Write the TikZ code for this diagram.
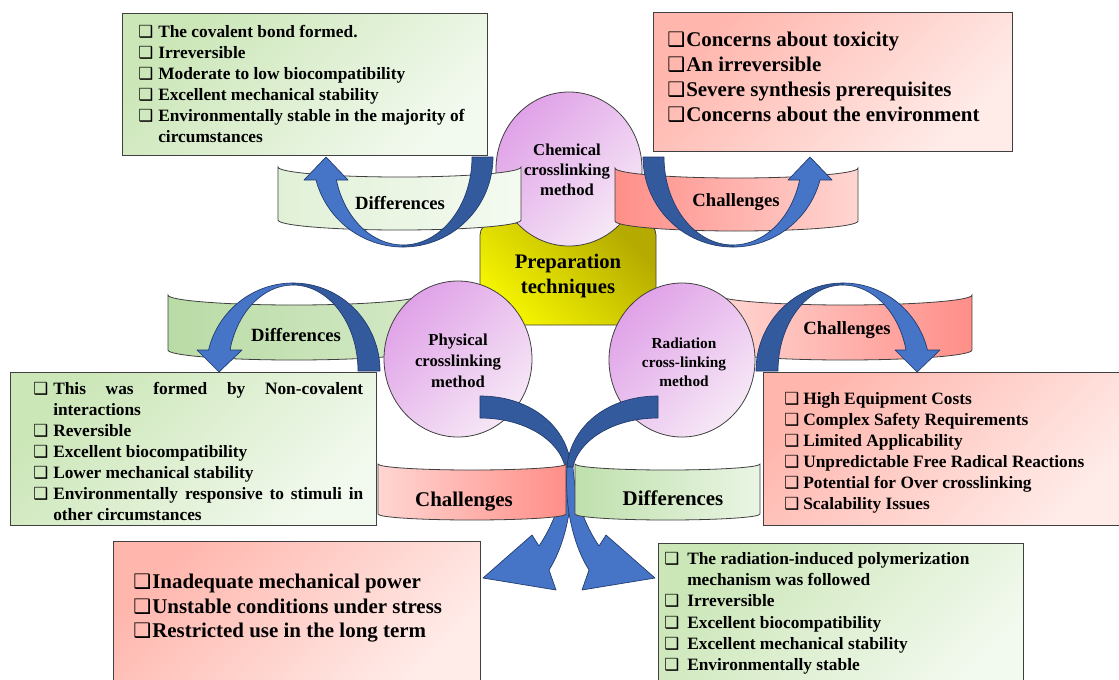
\documentclass[tikz,border=0pt]{standalone}
\usepackage{fontspec}
\setmainfont{Liberation Serif}
\newfontfamily\symf{DejaVu Sans}
\definecolor{lineC}{HTML}{404040}
\definecolor{gA}{HTML}{CBE6B7}
\definecolor{gB}{HTML}{F2F9EE}
\definecolor{rA}{HTML}{FFB6AD}
\definecolor{rB}{HTML}{FFECE9}
\definecolor{cA}{HTML}{E0A2E8}
\definecolor{cB}{HTML}{F6E8F6}
\definecolor{yA}{HTML}{F6F600}
\definecolor{yB}{HTML}{B4AA00}
\definecolor{arD}{HTML}{345A9E}
\definecolor{arL}{HTML}{4674C6}
\definecolor{arE}{HTML}{1F3A6C}
\definecolor{rbRs}{HTML}{FF8E88}
\definecolor{rbRl}{HTML}{FFD6D2}
\definecolor{rbG1a}{HTML}{E1F1D7}
\definecolor{rbG1b}{HTML}{F4FAF0}
\definecolor{rbG2a}{HTML}{B9DBA5}
\definecolor{rbG2b}{HTML}{D3E9C6}
\definecolor{rbG3a}{HTML}{BFE0AD}
\definecolor{rbG3b}{HTML}{EAF5E4}
\newcommand\fsz[2]{\fontsize{#1}{#2}\selectfont\bfseries}
\def\itmfont{\fsz{13}{15.75}}
\def\bulfont{\symf\bfseries\fontsize{12.5}{15}\selectfont}
\newcommand\bitem[5]{\node[bul] (#1b) at (#2,#4) {❑}; \node[itm] (#1) at (#3,#4) {#5};}
\newcommand\citem[4]{\node[itm] (#1) at (#2,#3) {#4};}
\newcommand\ribbon[6]{\path[#1] (#2,#4) -- (#2,#5) arc[start angle=180, end angle=0, x radius={(#3-#2)/2}, y radius=#6] -- (#3,#4) arc[start angle=0, end angle=180, x radius={(#3-#2)/2}, y radius=#6] -- cycle;}
\begin{document}
\begin{tikzpicture}[x=0.75pt,y=-0.75pt,
 panel/.style={draw=lineC, line width=0.7pt},
 gpanel/.style={panel, top color=gA, bottom color=gB, shading angle=45},
 rpanel/.style={panel, top color=rA, bottom color=rB, shading angle=45},
 disc/.style={draw=lineC, line width=0.6pt, top color=cA, bottom color=cB, shading angle=45},
 yelbox/.style={draw=lineC, line width=0.6pt, rounded corners=9pt, top color=yB, bottom color=yA, shading angle=-45},
 band/.style={draw=lineC, line width=0.6pt},
 darr/.style={fill=arD, draw=arE, line width=0.5pt, line join=round},
 larr/.style={fill=arL, draw=arE, line width=0.5pt, line join=round},
 bul/.style={anchor=base west, inner sep=0pt, font=\bulfont},
 itm/.style={anchor=base west, inner sep=0pt, font=\itmfont},
 lab/.style={inner sep=0pt, align=center},
]
\useasboundingbox (0,0) rectangle (1119,679);
\clip (0,0) rectangle (1119,679);
\fill[white] (0,0) rectangle (1119,679);

% panels
\path[gpanel] (122,13) rectangle (487,155);
\path[rpanel] (653,12) rectangle (1012,151);
\path[gpanel] (10,372) rectangle (376,525);
\path[rpanel] (763,372) rectangle (1130,525);
\path[rpanel] (113,541) rectangle (480,690);
\path[gpanel] (658,543) rectangle (1023,690);

% centre block
\path[yelbox] (480,223) rectangle (656,325);

% middle ribbons (behind circles)
\ribbon{band, left color=rbG2a, right color=rbG2b}{168}{420}{295}{350}{10}
\ribbon{band, left color=rbRl, right color=rbRs}{718}{972}{295}{350}{10}

% circles
\path[disc] (458,359) ellipse[x radius=74, y radius=78];
\path[disc] (682,360) ellipse[x radius=73, y radius=77];
\path[disc] (569,169) ellipse[x radius=73, y radius=77];

% top ribbons
\ribbon{band, left color=rbG1a, right color=rbG1b}{278}{521}{167}{220}{10}
\ribbon{band, left color=rbRs, right color=rbRl}{615}{858}{168}{221}{10}

% top-right arrow
\path[darr] (643,157) arc[start angle=180, end angle=90, x radius=90, y radius=90] -- (733,245) arc[start angle=90, end angle=180, x radius=69, y radius=88] -- cycle;
\path[larr] (733,247) arc[start angle=90, end angle=14.8, x radius=90, y radius=90] -- (832,180) -- (810,157) -- (788,180) -- (799.6,180) arc[start angle=15.15, end angle=90, x radius=69, y radius=88] -- cycle;
% top-left arrow
\path[darr] (493,157) arc[start angle=0, end angle=90, x radius=90, y radius=90] -- (403,245) arc[start angle=90, end angle=0, x radius=69, y radius=88] -- cycle;
\path[larr] (403,247) arc[start angle=90, end angle=165.2, x radius=90, y radius=90] -- (304,180) -- (326,157) -- (348,180) -- (336.4,180) arc[start angle=164.85, end angle=90, x radius=69, y radius=88] -- cycle;
% middle-left arrow
\path[darr] (380,371) arc[start angle=0, end angle=-90, x radius=87, y radius=88] -- (293,285) arc[start angle=-90, end angle=0, x radius=65, y radius=86] -- cycle;
\path[larr] (293,283) arc[start angle=-90, end angle=-166.2, x radius=87, y radius=88] -- (197,350) -- (219,372) -- (242,350) -- (230,350) arc[start angle=-165.87, end angle=-90, x radius=65, y radius=86] -- cycle;
% middle-right arrow
\path[darr] (756,371) arc[start angle=180, end angle=270, x radius=87, y radius=88] -- (843,285) arc[start angle=270, end angle=180, x radius=65, y radius=86] -- cycle;
\path[larr] (843,283) arc[start angle=270, end angle=346.2, x radius=87, y radius=88] -- (940,350) -- (917,372) -- (895,350) -- (906,350) arc[start angle=345.87, end angle=270, x radius=65, y radius=86] -- cycle;
% bottom arrows
\path[darr] (480,396) .. controls (532,396) and (568,428) .. (571,467) -- (565,467) .. controls (560,442) and (527,418) .. (480,418) -- cycle;
\path[larr] (565,467) -- (571,467) .. controls (574,510) and (563,548) .. (549,570) -- (556,590) -- (483,578) -- (532,535) -- (539,546) .. controls (553,525) and (563,500) .. (565,467) -- cycle;
\path[darr] (658,396) .. controls (606,396) and (570,428) .. (567,467) -- (573,467) .. controls (578,442) and (611,418) .. (658,418) -- cycle;
\path[larr] (573,467) -- (567,467) .. controls (564,510) and (575,548) .. (589,570) -- (582,590) -- (655,578) -- (606,535) -- (599,546) .. controls (585,525) and (575,500) .. (573,467) -- cycle;

% bottom ribbons
\ribbon{band, left color=rbRl, right color=rbRs}{378}{566}{464}{514}{6}
\ribbon{band, left color=rbG3a, right color=rbG3b}{575}{760}{464}{514}{6}

% centre texts
\node[lab, font=\fsz{15.5}{18.75}] (prep) at (568,276) {Preparation\\techniques};
\node[lab, font=\fsz{12.5}{15}] (chem) at (567,170) {Chemical\\crosslinking\\method};
\node[lab, font=\fsz{12.5}{15.75}] (phys) at (458,361) {Physical\\crosslinking\\method};
\node[lab, font=\fsz{11.5}{14.25}] (radi) at (684,362) {Radiation\\cross-linking\\method};

% ribbon labels
\node[lab, font=\fsz{14}{16}] (tlr) at (400,203) {Differences};
\node[lab, font=\fsz{14}{16}] (trr) at (736,202) {Challenges};
\node[lab, font=\fsz{14}{16}] (mlr) at (296,335) {Differences};
\node[lab, font=\fsz{14}{16}] (mrr) at (847,330) {Challenges};
\node[lab, font=\fsz{15.7}{18}] (blr) at (464,502) {Challenges};
\node[lab, font=\fsz{15.7}{18}] (brr) at (673,498) {Differences};

% top-left list
\bitem{tl1}{138}{158}{37}{The covalent bond formed.}
\bitem{tl2}{138}{158}{58}{Irreversible}
\bitem{tl3}{138}{158}{79}{Moderate to low biocompatibility}
\bitem{tl4}{138}{158}{100}{Excellent mechanical stability}
\bitem{tl5}{138}{158}{121}{Environmentally stable in the majority of}
\citem{tl6}{158}{142}{circumstances}

% middle-left list
\bitem{ml1}{33}{53}{394}{\makebox[232.5pt][s]{This was formed by Non-covalent}}
\citem{ml2}{53}{415}{interactions}
\bitem{ml3}{33}{53}{436}{Reversible}
\bitem{ml4}{33}{53}{457}{Excellent biocompatibility}
\bitem{ml5}{33}{53}{478}{Lower mechanical stability}
\bitem{ml6}{33}{53}{499}{\makebox[232.5pt][s]{Environmentally responsive to stimuli in}}
\citem{ml7}{53}{520}{other circumstances}

% middle-right list
\bitem{mr1}{784}{803}{404}{High Equipment Costs}
\bitem{mr2}{784}{803}{425}{Complex Safety Requirements}
\bitem{mr3}{784}{803}{446}{Limited Applicability}
\bitem{mr4}{784}{803}{467}{Unpredictable Free Radical Reactions}
\bitem{mr5}{784}{803}{488}{Potential for Over crosslinking}
\bitem{mr6}{784}{803}{509}{Scalability Issues}

% bottom-right list
\bitem{br1}{664}{687}{564}{The radiation-induced polymerization}
\citem{br2}{687}{585}{mechanism was followed}
\bitem{br3}{664}{687}{606}{Irreversible}
\bitem{br4}{664}{687}{628}{Excellent biocompatibility}
\bitem{br5}{664}{687}{649}{Excellent mechanical stability}
\bitem{br6}{664}{687}{670}{Environmentally stable}

% larger lists
\begin{scope}
\def\itmfont{\fsz{15.7}{18.75}}
\def\bulfont{\symf\bfseries\fontsize{15}{18}\selectfont}
\bitem{tr1}{667}{686}{46}{Concerns about toxicity}
\bitem{tr2}{667}{686}{71}{An irreversible}
\bitem{tr3}{667}{686}{96}{Severe synthesis prerequisites}
\bitem{tr4}{667}{686}{121}{Concerns about the environment}
\bitem{bl1}{133}{152}{588}{Inadequate mechanical power}
\bitem{bl2}{133}{152}{613}{Unstable conditions under stress}
\bitem{bl3}{133}{152}{637}{Restricted use in the long term}
\end{scope}
\end{tikzpicture}
\end{document}
